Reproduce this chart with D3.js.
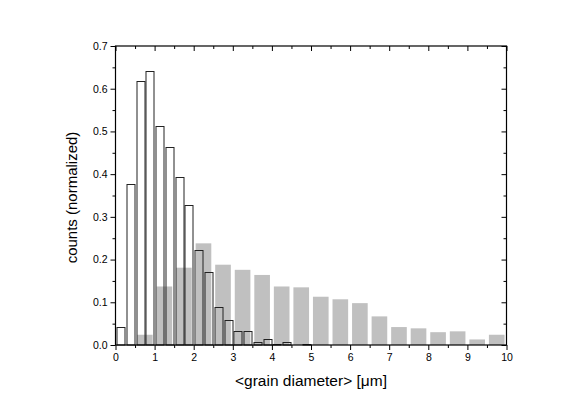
<!DOCTYPE html>
<html>
<head>
<meta charset="utf-8">
<script src="https://cdn.jsdelivr.net/npm/d3@7"></script>
<style>
  body { margin: 0; background: #fff; }
  text { font-family: "Liberation Sans", Arial, sans-serif; fill: #000; }
</style>
</head>
<body>
<div id="chart"></div>
<script>
// grain size histograms: fine bins (0.25 um) outlined, coarse bins (0.5 um) grey
var fineStarts = [0, 0.25, 0.5, 0.75, 1.0, 1.25, 1.5, 1.75, 2.0, 2.25, 2.5, 2.75, 3.0, 3.25, 3.5, 3.75, 4.0, 4.25, 4.5, 4.75];
var fineCounts = [0.042, 0.378, 0.617, 0.642, 0.513, 0.464, 0.394, 0.327, 0.223, 0.172, 0.088, 0.059, 0.033, 0.033, 0.007, 0.013, 0.003, 0.006, 0, 0.003];

var coarseStarts = [0.5, 1.0, 1.5, 2.0, 2.5, 3.0, 3.5, 4.0, 4.5, 5.0, 5.5, 6.0, 6.5, 7.0, 7.5, 8.0, 8.5, 9.0, 9.5];
var coarseCounts = [0.024, 0.137, 0.181, 0.238, 0.188, 0.176, 0.164, 0.137, 0.135, 0.113, 0.107, 0.098, 0.067, 0.042, 0.039, 0.030, 0.032, 0.013, 0.024];

var xTicks = [0, 1, 2, 3, 4, 5, 6, 7, 8, 9, 10];
var yTicks = [0, 0.1, 0.2, 0.3, 0.4, 0.5, 0.6, 0.7];

var fullWidth = 586, fullHeight = 401;
var margin = {top: 46, right: 79.5, bottom: 56, left: 115.5},
    width = fullWidth - margin.left - margin.right,
    height = fullHeight - margin.top - margin.bottom;

var xScale = d3.scaleLinear().domain([0, 10]).range([0, width]);
var yScale = d3.scaleLinear().domain([0, 0.7]).range([height, 0]);

var svg = d3.select("#chart").append("svg")
    .attr("width", fullWidth)
    .attr("height", fullHeight)
  .append("g")
    .attr("transform", "translate(" + margin.left + "," + margin.top + ")");

// grey bars (0.5 bin, 80% width)
svg.selectAll(".coarse")
    .data(coarseStarts)
  .enter().append("rect")
    .attr("class", "coarse")
    .attr("x", function(d) { return xScale(d + 0.05); })
    .attr("width", xScale(0.4) - xScale(0))
    .attr("y", function(d, i) { return yScale(coarseCounts[i]); })
    .attr("height", function(d, i) { return height - yScale(coarseCounts[i]); })
    .style("fill", "#c0c0c0");

// outlined bars (0.25 bin)
svg.selectAll(".fine")
    .data(fineStarts.filter(function(d, i) { return fineCounts[i] > 0; }))
  .enter().append("rect")
    .attr("class", "fine")
    .attr("x", function(d) { return Math.round(xScale(d + 0.025)) + 0.5; })
    .attr("width", Math.round(xScale(0.2) - xScale(0)))
    .attr("y", function(d) { return Math.round(yScale(fineCounts[fineStarts.indexOf(d)])) + 0.5; })
    .attr("height", function(d) { return height - Math.round(yScale(fineCounts[fineStarts.indexOf(d)])) - 0.5; })
    .style("fill", "none")
    .style("stroke", "#222")
    .style("stroke-width", 1);

// minor tick values
var xMinor = d3.range(0.5, 10, 1);
var yMinor = d3.range(0.05, 0.7, 0.1);

function styleAxis(g) {
  g.select(".domain").remove();
  g.selectAll(".tick line").style("stroke", "#000");
  g.selectAll(".tick text").style("font-size", "10.5px");
}

// bottom axis (outward ticks)
svg.append("g")
    .attr("transform", "translate(0," + height + ")")
    .call(d3.axisBottom(xScale).tickValues(xTicks).tickSize(5).tickPadding(4).tickFormat(d3.format("d")))
    .call(styleAxis);
svg.append("g")
    .attr("transform", "translate(0," + height + ")")
    .call(d3.axisBottom(xScale).tickValues(xMinor).tickSize(3).tickFormat(""))
    .call(styleAxis);

// left axis (outward ticks)
svg.append("g")
    .call(d3.axisLeft(yScale).tickValues(yTicks).tickSize(5).tickPadding(3).tickFormat(d3.format(".1f")))
    .call(styleAxis);
svg.append("g")
    .call(d3.axisLeft(yScale).tickValues(yMinor).tickSize(3).tickFormat(""))
    .call(styleAxis);

// top axis (inward ticks)
svg.append("g")
    .call(d3.axisTop(xScale).tickValues(xTicks).tickSize(-5).tickFormat(""))
    .call(styleAxis);
svg.append("g")
    .call(d3.axisTop(xScale).tickValues(xMinor).tickSize(-3).tickFormat(""))
    .call(styleAxis);

// right axis (inward ticks)
svg.append("g")
    .attr("transform", "translate(" + width + ",0)")
    .call(d3.axisRight(yScale).tickValues(yTicks).tickSize(-5).tickFormat(""))
    .call(styleAxis);
svg.append("g")
    .attr("transform", "translate(" + width + ",0)")
    .call(d3.axisRight(yScale).tickValues(yMinor).tickSize(-3).tickFormat(""))
    .call(styleAxis);

// frame
svg.append("rect")
    .attr("x", 0)
    .attr("y", 0)
    .attr("width", width)
    .attr("height", height)
    .style("fill", "none")
    .style("stroke", "#000")
    .style("stroke-width", 1.2);

// axis titles
svg.append("text")
    .attr("x", width / 2)
    .attr("y", height + 41)
    .attr("text-anchor", "middle")
    .style("font-size", "15.5px")
    .text("<grain diameter> [μm]");

svg.append("text")
    .attr("transform", "translate(" + (-39) + "," + (height / 2 + 2) + ") rotate(-90)")
    .attr("text-anchor", "middle")
    .style("font-size", "15px")
    .text("counts (normalized)");
</script>
</body>
</html>
